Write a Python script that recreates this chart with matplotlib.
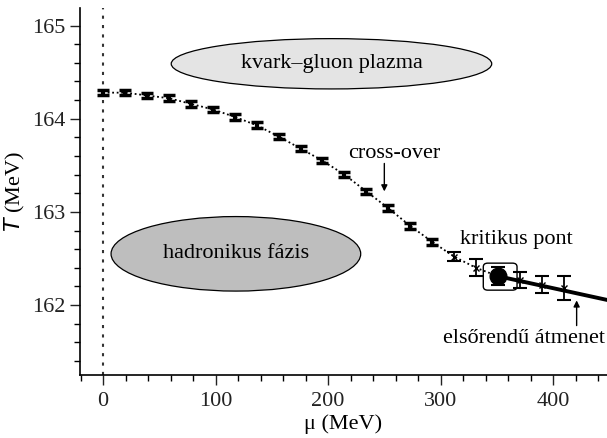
import matplotlib.pyplot as plt
import numpy as np
from matplotlib.patches import Ellipse, FancyBboxPatch

plt.rcParams['font.family'] = ['Liberation Serif', 'DejaVu Serif']

# lattice points along the transition line
mu = [0, 19.5, 39, 58.5, 78, 97.5, 117, 136.5, 156, 175.5, 195, 214.5,
      234, 253.5, 273, 292.5, 312, 331.5, 351, 370.5, 390, 409.5]
T = [164.28, 164.28, 164.25, 164.22, 164.16, 164.10, 164.02, 163.93,
     163.81, 163.68, 163.55, 163.40, 163.22, 163.04, 162.85, 162.68,
     162.52, 162.40, 162.31, 162.27, 162.22, 162.18]
T_err = [0.03, 0.03, 0.03, 0.03, 0.03, 0.03, 0.03, 0.03, 0.03, 0.03, 0.03,
         0.03, 0.03, 0.03, 0.03, 0.03, 0.05, 0.09, 0.10, 0.09, 0.09, 0.13]

# first order line from the critical point
mu_first = [351, 450]
T_first = [162.31, 162.05]

crit_mu, crit_T = 351, 162.31
fs = 16

fig = plt.figure(figsize=(6.07, 4.38), dpi=100)
ax = fig.add_axes([0.132, 0.144, 0.868, 0.838])

ax.axvline(0, color='#333333', linestyle=(0, (1.5, 3)), linewidth=1.5)

# phase regions
ax.add_patch(Ellipse((203, 164.59), 285, 0.54, facecolor='#e4e4e4',
                     edgecolor='black', linewidth=0.9))
ax.add_patch(Ellipse((118, 162.55), 222, 0.80, facecolor='#bebebe',
                     edgecolor='black', linewidth=0.9))
ax.text(203, 164.59, 'kvark–gluon plazma', ha='center', va='center', fontsize=fs)
ax.text(118, 162.55, 'hadronikus fázis', ha='center', va='center', fontsize=fs)

ax.plot(mu[:19], T[:19], color='black', linestyle=(0, (1, 1.5)), linewidth=1.3)
ax.plot(mu_first, T_first, color='black', linewidth=2.8, solid_capstyle='butt')

small = slice(0, 16)
big = slice(16, None)
ax.errorbar(mu[small], T[small], yerr=T_err[small], fmt='none', ecolor='black',
            elinewidth=3, capsize=4, capthick=2.5)
ax.errorbar(mu[big], T[big], yerr=T_err[big], fmt='x', color='black',
            markersize=5, elinewidth=1.3, capsize=5, capthick=1.5)

ax.plot(crit_mu, crit_T, 'o', color='black', markersize=12)
ax.add_patch(FancyBboxPatch((338, 162.16), 30, 0.29,
                            boxstyle='round,pad=0,rounding_size=4',
                            mutation_aspect=0.01,
                            facecolor='none', edgecolor='black', linewidth=1.0))

ax.text(259, 163.63, 'cross-over', ha='center', va='center', fontsize=fs)
ax.annotate('', xy=(250, 163.22), xytext=(250, 163.52),
            arrowprops=dict(arrowstyle='-|>', color='black', lw=1, mutation_scale=9,
                            shrinkA=0, shrinkB=0))
ax.text(367, 162.70, 'kritikus pont', ha='center', va='center', fontsize=fs)
ax.text(374, 161.64, 'elsőrendű átmenet', ha='center', va='center', fontsize=fs)
ax.annotate('', xy=(421, 162.05), xytext=(421, 161.78),
            arrowprops=dict(arrowstyle='-|>', color='black', lw=1, mutation_scale=9,
                            shrinkA=0, shrinkB=0))

ax.set_xlim(-20.5, 448)
ax.set_ylim(161.25, 165.19)
ax.set_xticks([0, 100, 200, 300, 400])
ax.set_xticks(np.arange(-20, 441, 20), minor=True)
ax.set_yticks([162, 163, 164, 165])
ax.set_yticks(np.arange(161.4, 165.1, 0.2), minor=True)
ax.tick_params(which='major', length=7, width=1, labelsize=fs, colors='#222222')
ax.tick_params(which='minor', length=4, width=1)
ax.tick_params(axis='x', which='major', pad=5)
for s in ['top', 'right']:
    ax.spines[s].set_visible(False)
for s in ['left', 'bottom']:
    ax.spines[s].set_linewidth(1.2)

ax.set_xlabel('μ (MeV)', fontsize=fs, labelpad=3)
ax.set_ylabel('$T$ (MeV)', fontsize=fs, labelpad=4)

fig.savefig('out.png', dpi=100)
